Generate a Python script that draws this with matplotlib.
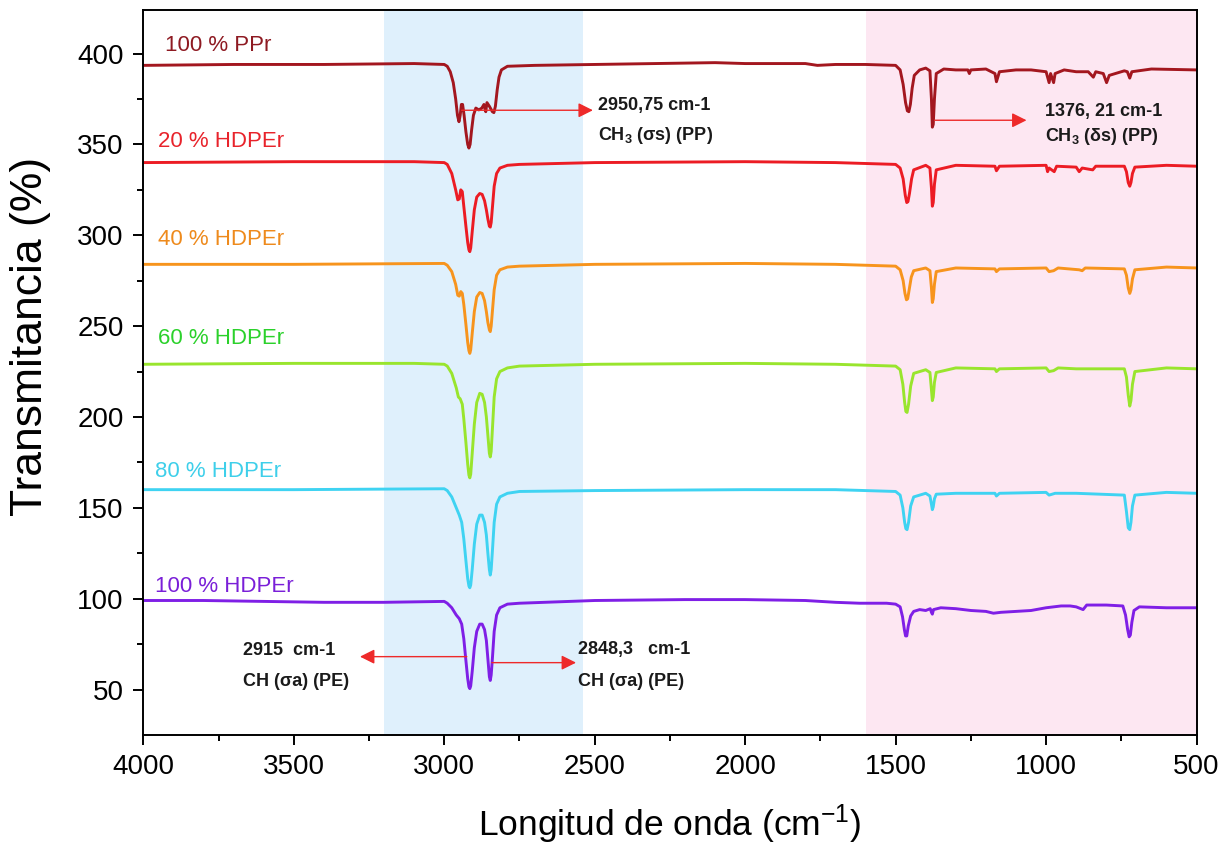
import numpy as np
import matplotlib
matplotlib.use("Agg")
import matplotlib.pyplot as plt

plt.rcParams['font.family'] = ['Liberation Sans', 'DejaVu Sans']
plt.rcParams['mathtext.default'] = 'regular'

# FTIR spectra, wavenumber (cm-1) vs offset transmittance (%)
ppr_wn = [4000, 3700, 3400, 3100, 3000, 2990, 2980, 2970, 2962, 2956, 2951, 2947, 2943, 2939,
          2934, 2928, 2922, 2918, 2914, 2909, 2903, 2895, 2885, 2875, 2868, 2862, 2858, 2850,
          2840, 2835, 2830, 2824, 2818, 2810, 2790, 2700, 2500, 2300, 2100, 2000, 1800, 1760,
          1700, 1600, 1500, 1485, 1475, 1467, 1461, 1456, 1451, 1445, 1438, 1420, 1400, 1386,
          1381, 1378, 1375, 1371, 1365, 1340, 1300, 1260, 1255, 1250, 1200, 1170, 1165, 1155,
          1100, 1050, 1000, 990, 985, 975, 970, 940, 900, 860, 843, 835, 810, 799, 790, 740,
          730, 722, 715, 650, 500]
ppr_t = [393.5, 394, 394, 394.5, 394, 393, 390, 384, 375, 366, 362.5, 366, 372, 372,
         366, 357, 350, 348, 350, 358, 366, 370, 369, 370, 372, 368, 373, 371,
         368, 367.5, 371, 380, 387, 391, 393, 393.5, 394, 394.5, 395, 394.5, 394.5, 393.5,
         394, 394, 393.5, 391, 383, 373, 368.5, 368, 372, 381, 388, 391, 392, 390.5,
         375, 359.5, 361, 375, 389, 391.5, 391, 391, 389, 391, 391.5, 389, 384.5, 390,
         391, 391, 390, 384, 389, 384, 389, 391, 390, 390, 387, 390, 389, 384, 388, 390.5,
         390, 386.5, 390, 391.5, 391]

h20_wn = [4000, 3500, 3100, 3000, 2990, 2975, 2962, 2955, 2950, 2945, 2940, 2935, 2928, 2922,
          2918, 2915, 2912, 2907, 2900, 2892, 2882, 2874, 2866, 2860, 2855, 2850, 2847, 2844,
          2840, 2834, 2826, 2815, 2790, 2750, 2500, 2000, 1700, 1600, 1500, 1485, 1475, 1468,
          1463, 1459, 1454, 1447, 1440, 1400, 1386, 1381, 1378, 1375, 1371, 1365, 1300, 1170,
          1165, 1155, 1000, 995, 990, 973, 965, 900, 890, 880, 845, 835, 740, 733, 727, 722,
          718, 713, 705, 600, 500]
h20_t = [340, 340.5, 340.5, 340, 339, 334, 325, 319.5, 320, 325, 324, 316, 305, 296,
         292, 291, 293, 302, 314, 321, 323, 322.5, 319, 314, 309, 305, 304.5, 307,
         315, 327, 334, 337, 338.5, 339, 340, 340.5, 340, 339.5, 339, 337, 331, 322,
         318, 318.5, 323, 331, 336, 338.5, 337, 326, 316, 318, 328, 336, 338.5, 338,
         335.5, 338, 338.5, 335, 337, 335, 338, 337.5, 335, 337, 336, 338, 338, 335, 329, 327,
         329, 334, 337.5, 338.5, 338]

h40_wn = [4000, 3500, 3000, 2990, 2975, 2962, 2955, 2950, 2945, 2940, 2935, 2928, 2922, 2918,
          2915, 2912, 2907, 2900, 2892, 2882, 2874, 2866, 2860, 2855, 2850, 2847, 2844, 2840,
          2834, 2826, 2815, 2790, 2750, 2500, 2000, 1700, 1600, 1500, 1485, 1475, 1469, 1464,
          1460, 1455, 1448, 1440, 1400, 1386, 1381, 1378, 1375, 1371, 1365, 1300, 1170, 1165,
          1155, 1000, 990, 975, 960, 890, 880, 870, 740, 733, 727, 722, 718, 713, 705, 600, 500]
h40_t = [284, 284, 284.5, 283.5, 280, 273, 267, 266.5, 269, 268, 262, 251, 241, 236.5,
         235, 237, 246, 258, 266, 268.5, 268, 264, 258, 252, 248, 247, 250, 258,
         270, 278, 281, 282.5, 283, 284, 284.5, 284, 283.5, 283, 281, 275, 268, 264.5,
         265, 270, 277, 280.5, 282, 280.5, 271, 263, 265, 273, 280, 282, 281.5, 280,
         281.5, 282, 280, 280.5, 282, 281, 280.5, 282, 281.5, 278, 271, 268, 270, 276, 281, 282.5, 282]

h60_wn = [4000, 3500, 3100, 3000, 2990, 2975, 2960, 2953, 2947, 2940, 2935, 2928, 2922, 2918,
          2915, 2912, 2907, 2900, 2892, 2882, 2874, 2866, 2860, 2855, 2850, 2847, 2844, 2840,
          2834, 2826, 2815, 2790, 2750, 2500, 2000, 1700, 1600, 1500, 1485, 1476, 1470, 1466,
          1462, 1457, 1450, 1440, 1400, 1386, 1381, 1378, 1375, 1371, 1365, 1300, 1170, 1165,
          1155, 1000, 990, 975, 960, 900, 740, 733, 727, 722, 718, 713, 705, 600, 500]
h60_t = [229, 229.5, 229.5, 229, 228, 224, 216, 211, 210, 207, 199, 186, 174, 168,
         166.5, 168.5, 180, 196, 208, 213, 212.5, 208, 200, 190, 180, 178, 181, 193,
         211, 221, 225, 227, 228, 229, 229.5, 229, 228.5, 228, 226, 218, 208, 203,
         202.5, 207, 217, 224, 226, 224.5, 215, 209, 211, 219, 224.5, 227, 226.5, 225,
         226.5, 227, 225, 225.5, 227, 226.5, 226.5, 222, 212, 206, 209, 218, 225, 227, 226.5]

h80_wn = [4000, 3500, 3000, 2990, 2975, 2960, 2950, 2942, 2935, 2928, 2922, 2918, 2915, 2912,
          2907, 2900, 2892, 2882, 2874, 2866, 2860, 2855, 2850, 2847, 2844, 2840, 2834, 2826,
          2815, 2790, 2750, 2500, 2000, 1700, 1600, 1500, 1485, 1476, 1470, 1466, 1462, 1457,
          1450, 1440, 1400, 1386, 1381, 1378, 1375, 1371, 1365, 1300, 1170, 1165, 1155, 1000,
          990, 970, 900, 740, 733, 727, 722, 718, 713, 705, 600, 500]
h80_t = [160, 160, 160.5, 159.5, 156, 150, 146, 142, 133, 121, 111, 107, 106, 107.5,
         116, 130, 141, 146, 146, 142, 135, 125, 116, 113, 116, 126, 142, 152,
         156, 158, 159, 159.5, 160, 160, 159.5, 159, 157, 150, 142, 138.5,
         138, 142, 151, 156, 158, 156.5, 152, 149, 150.5, 155, 157.5, 158, 158, 156.5, 158, 158.5,
         157, 158, 158, 157, 148, 139, 138, 142, 151, 157, 158.5, 158]

h100_wn = [4000, 3800, 3600, 3400, 3200, 3000, 2990, 2975, 2960, 2950, 2942, 2935, 2928, 2922,
           2918, 2915, 2912, 2907, 2900, 2892, 2882, 2874, 2866, 2860, 2855, 2850, 2847, 2844,
           2840, 2834, 2826, 2815, 2790, 2750, 2500, 2200, 2000, 1800, 1700, 1620, 1530, 1500,
           1485, 1477, 1471, 1467, 1463, 1458, 1450, 1440, 1420, 1400, 1385, 1381, 1378, 1374,
           1350, 1300, 1250, 1200, 1175, 1150, 1100, 1050, 1000, 950, 920, 900, 877, 865, 800,
           745, 736, 729, 724, 720, 715, 708, 690, 600, 500]
h100_t = [99, 99, 98.5, 98, 98, 98.5, 97.5, 95, 91, 89, 86, 78, 66, 56,
          51.5, 50.5, 52, 60, 73, 82, 86, 86, 83, 77, 67, 57, 55, 58,
          67, 82, 91, 95, 97, 97.5, 99, 99.5, 99.5, 99, 98, 97.5, 97.5, 97,
          95.5, 90, 83, 79.5, 79.5, 85, 90.5, 93, 94, 93.5, 94.5, 92.5, 91.5, 94,
          95, 94.5, 93.5, 93, 92, 92.5, 93, 93.5, 95, 96, 96, 95.5, 94, 96.5, 96.5,
          96, 91, 83, 79, 80, 87, 93.5, 95.5, 95, 95]

series = [
    (ppr_wn, ppr_t, '#A3171F', '100 % PPr', '#8E1A22', 3928, 404.6),
    (h20_wn, h20_t, '#EC1C24', '20 % HDPEr', '#E8232B', 3950, 351.4),
    (h40_wn, h40_t, '#F7941D', '40 % HDPEr', '#EE8A1C', 3950, 297.4),
    (h60_wn, h60_t, '#99E52D', '60 % HDPEr', '#2BD12B', 3950, 243),
    (h80_wn, h80_t, '#3FD3F2', '80 % HDPEr', '#3ECFEA', 3960, 170),
    (h100_wn, h100_t, '#7F1FE6', '100 % HDPEr', '#7A1FD8', 3960, 106.7),
]

fig = plt.figure(figsize=(12.29, 8.58), dpi=100)
ax = fig.add_axes([0.1166, 0.1434, 0.857, 0.845])

# highlighted regions: C-H stretching and fingerprint
ax.axvspan(3200, 2540, color='#DFF0FC', zorder=0, lw=0)
ax.axvspan(1600, 500, color='#FDE7F2', zorder=0, lw=0)

for wn, t, col, lab, lcol, lx, ly in series:
    ax.plot(wn, t, color=col, lw=2.1, zorder=3, solid_joinstyle='round')
    ax.text(lx, ly, lab, color=lcol, fontsize=16, ha='left', va='center')

# band assignments
arrow = dict(arrowstyle='-|>', color='#EE2A2A', lw=1.0, mutation_scale=22, shrinkA=0, shrinkB=0)
ax.annotate('', xy=(2506, 368.8), xytext=(2942, 368.8), arrowprops=arrow, zorder=4)
ax.annotate('', xy=(1065, 363.3), xytext=(1370, 363.3), arrowprops=arrow, zorder=4)
ax.annotate('', xy=(3280, 68.1), xytext=(2925, 68.1), arrowprops=arrow, zorder=4)
ax.annotate('', xy=(2562, 64.8), xytext=(2842, 64.8), arrowprops=arrow, zorder=4)

tkw = dict(fontsize=13, fontweight='bold', color='#1A1A1A', ha='left', va='center')
ax.text(2489, 371.6, '2950,75 cm-1', **tkw)
ax.text(2489, 355, 'CH$_3$ (σs) (PP)', **tkw)
ax.text(1004, 367.9, '1376, 21 cm-1', **tkw)
ax.text(1004, 354.1, 'CH$_3$ (δs) (PP)', **tkw)
ax.text(3670, 71.6, '2915  cm-1', **tkw)
ax.text(3670, 54.4, 'CH (σa) (PE)', **tkw)
ax.text(2557, 72, '2848,3   cm-1', **tkw)
ax.text(2557, 54.4, 'CH (σa) (PE)', **tkw)

ax.set_xlim(4000, 500)
ax.set_ylim(25, 424)
ax.set_xticks(np.arange(4000, 499, -500))
ax.set_xticks(np.arange(3750, 500, -500), minor=True)
ax.set_yticks(np.arange(50, 401, 50))
ax.set_yticks(np.arange(75, 424, 50), minor=True)
ax.tick_params(which='major', direction='out', length=7, width=1.4, labelsize=20, pad=7)
ax.tick_params(which='minor', direction='out', length=4, width=1.4)
for s in ax.spines.values():
    s.set_linewidth(1.4)
    s.set_zorder(5)

ax.set_xlabel('Longitud de onda (cm$^{-1}$)', fontsize=25.5, labelpad=16)
ax.set_ylabel('Transmitancia (%)', fontsize=32)
ax.yaxis.set_label_coords(-0.088, 0.549)

fig.savefig('out.png', dpi=100)
